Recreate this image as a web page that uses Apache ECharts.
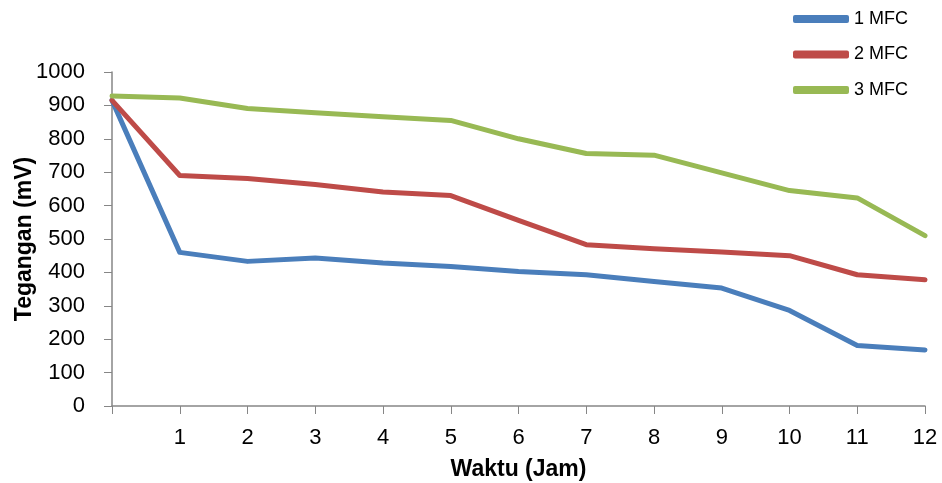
<!DOCTYPE html>
<html>
<head>
<meta charset="utf-8">
<script src="https://cdn.jsdelivr.net/npm/echarts@6/dist/echarts.min.js"></script>
<style>html,body{margin:0;padding:0;background:#fff;}#c{width:942px;height:483px;}</style>
</head>
<body>
<div id="c"></div>
<script>
const hours = [0,1,2,3,4,5,6,7,8,9,10,11,12];
const mfc1 = [915,460,433,443,428,418,403,393,373,353,286,181,168];
const mfc2 = [915,690,681,663,641,630,556,483,471,461,450,393,378];
const mfc3 = [928,922,891,878,866,855,800,756,751,698,645,623,510];
const seriesNames = ['1 MFC','2 MFC','3 MFC'];
const colors = ['#4a7ebb','#be4b48','#98b954'];
const xTitle = 'Waktu (Jam)';
const yTitle = 'Tegangan (mV)';

const font = 'Liberation Sans';
const chart = echarts.init(document.getElementById('c'));
const pairs = arr => hours.map((h,i)=>[h,arr[i]]);
const allData = [mfc1, mfc2, mfc3];
chart.setOption({
  animation:false,
  color: colors,
  grid:{left:112,right:17,top:72,bottom:77,outerBoundsMode:'none',containLabel:false},
  legend:{
    orient:'vertical', left:793, top:10, padding:0,
    itemWidth:56, itemHeight:8, itemGap:17.5,
    icon:'roundRect',
    textStyle:{fontFamily:font,fontSize:18,color:'#000'},
    data:seriesNames
  },
  xAxis:{
    type:'value', min:0, max:12, interval:1,
    name:xTitle, nameLocation:'middle', nameGap:52, nameMoveOverlap:false,
    nameTextStyle:{fontFamily:font,fontSize:23,fontWeight:'bold',color:'#000'},
    axisLine:{lineStyle:{color:'#868686',width:1.5}},
    axisTick:{show:true,length:8,lineStyle:{color:'#868686'}},
    axisLabel:{fontFamily:font,fontSize:22,color:'#000',margin:21,
      formatter:v=> v===0 ? '' : String(v)},
    splitLine:{show:false}
  },
  yAxis:{
    type:'value', min:0, max:1000, interval:100,
    name:yTitle, nameLocation:'middle', nameGap:76, nameRotate:90, nameMoveOverlap:false,
    nameTextStyle:{fontFamily:font,fontSize:23,fontWeight:'bold',color:'#000'},
    axisLine:{show:true,lineStyle:{color:'#868686',width:1.5}},
    axisTick:{show:true,length:8,lineStyle:{color:'#868686'}},
    axisLabel:{fontFamily:font,fontSize:22,color:'#000',margin:27,
      formatter:v=>String(v)},
    splitLine:{show:false}
  },
  series: seriesNames.map((n,i)=>({
    name:n, type:'line', data:pairs(allData[i]),
    showSymbol:false, symbol:'none',
    lineStyle:{width:5,color:colors[i],cap:'round',join:'round'},
    itemStyle:{color:colors[i]}
  }))
});
</script>
</body>
</html>
